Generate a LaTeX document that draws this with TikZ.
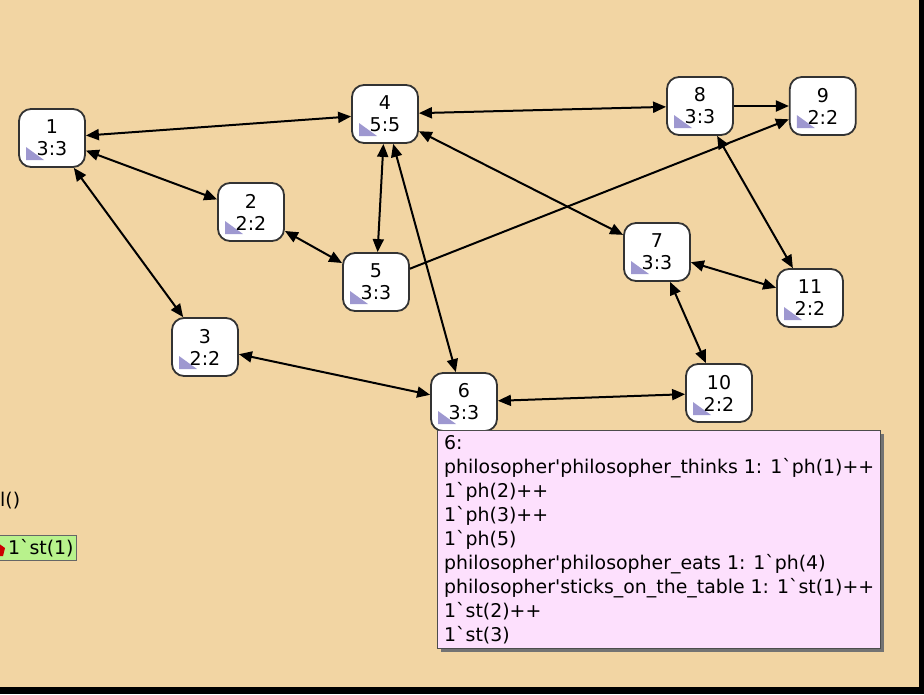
\documentclass[tikz,border=0pt]{standalone}
\usepackage{fontspec}
\setmainfont{DejaVu Sans}
\usetikzlibrary{positioning,arrows.meta}
\definecolor{canvas}{RGB}{242,213,163}
\definecolor{lavtri}{RGB}{158,152,208}
\definecolor{tipbg}{RGB}{253,224,253}
\definecolor{tokgreen}{RGB}{184,242,140}
\newcommand{\bkq}{\textasciigrave}
\newcommand{\apos}{\textquotesingle}

\begin{document}
\begin{tikzpicture}[x=1pt, y=-1pt,
    ssnode/.style={rectangle, rounded corners=12pt, draw=black!80, line width=1.8pt,
        fill=white, minimum width=66pt, minimum height=58pt, inner sep=0pt,
        align=center, font=\fontsize{19}{22}\selectfont,
        path picture={\fill[lavtri, sharp corners] ([shift={(7pt,7pt)}]path picture bounding box.south west)
            -- ++(18pt,0pt) -- ++(-18pt,13pt) -- cycle;}},
    link/.style={line width=2pt, -{Triangle[length=13pt, width=11pt]}},
    dlink/.style={line width=2pt, {Triangle[length=13pt, width=11pt]}-{Triangle[length=13pt, width=11pt]}},
    tipbox/.style={rectangle, draw=black!70, line width=0.8pt, fill=tipbg,
        minimum width=443pt, minimum height=218pt, inner sep=0pt},
    tiptext/.style={align=left, inner sep=0pt, font=\fontsize{18.9}{24}\selectfont},
    tokbox/.style={rectangle, draw=black!60, line width=0.8pt, fill=tokgreen,
        text width=84pt, align=right, inner xsep=3pt, minimum height=25pt,
        font=\fontsize{18.9}{22}\selectfont},
    ]
    \useasboundingbox (0,0) rectangle (924,694);
    % canvas and window frame
    \fill[black] (0,0) rectangle (924,694);
    \fill[canvas] (0,0) rectangle (919,687);

    % state space nodes
    \node[ssnode] (n1)  at (52,138)  {1\\3:3};
    \node[ssnode] (n2)  at (251,212) {2\\2:2};
    \node[ssnode] (n3)  at (205,347) {3\\2:2};
    \node[ssnode] (n4)  at (385,114) {4\\5:5};
    \node[ssnode] (n5)  at (376,282) {5\\3:3};
    \node[ssnode] (n6)  at (464,402) {6\\3:3};
    \node[ssnode] (n7)  at (657,252) {7\\3:3};
    \node[ssnode] (n8)  at (700,106) {8\\3:3};
    \node[ssnode, right=55pt of n8] (n9) {9\\2:2};
    \node[ssnode] (n10) at (719,393) {10\\2:2};
    \node[ssnode] (n11) at (810,298) {11\\2:2};

    % arcs from 1 and 4
    \draw[dlink] (n1) -- (n4);
    \draw[dlink] (n1) -- (n2);
    \draw[dlink] (n1) -- (n3);
    \draw[dlink] (n4) -- (n5);
    \draw[dlink] (n4) -- (n6);
    \draw[dlink] (n4) -- (n8);
    \draw[dlink] (n4) -- (n7);
    % arcs in the middle
    \draw[dlink] (n2) -- (n5);
    \draw[link]  (n5) -- (n9);
    \draw[dlink] (n3) -- (n6);
    \draw[dlink] (n6) -- (n10);
    % arcs on the right
    \draw[link]  (n8) -- (n9);
    \draw[dlink] (n8) -- (n11);
    \draw[dlink] (n7) -- (n11);
    \draw[dlink] (n7) -- (n10);

    % fragments at the left edge
    \node[anchor=west, inner sep=0pt, font=\fontsize{18.9}{22}\selectfont] (fnl) at (0,501) {l()};
    \node[tokbox, anchor=east] (tok) at (77,548) {1\bkq st(1)};
    \fill[red!80!black] (-2,543) -- (5,548) -- (3,556) -- (-2,556) -- cycle;

    % tooltip of node 6
    \fill[black!55] (441,434) rectangle (884,652);
    \node[tipbox, anchor=north west] (tip) at (437,430) {};
    \node[tiptext, anchor=north west] (tiptxt) at (444,435) {6:\\
        philosopher\apos philosopher\_thinks 1: 1\bkq ph(1)++\\
        1\bkq ph(2)++\\
        1\bkq ph(3)++\\
        1\bkq ph(5)\\
        philosopher\apos philosopher\_eats 1: 1\bkq ph(4)\\
        philosopher\apos sticks\_on\_the\_table 1: 1\bkq st(1)++\\
        1\bkq st(2)++\\
        1\bkq st(3)};
\end{tikzpicture}
\end{document}
